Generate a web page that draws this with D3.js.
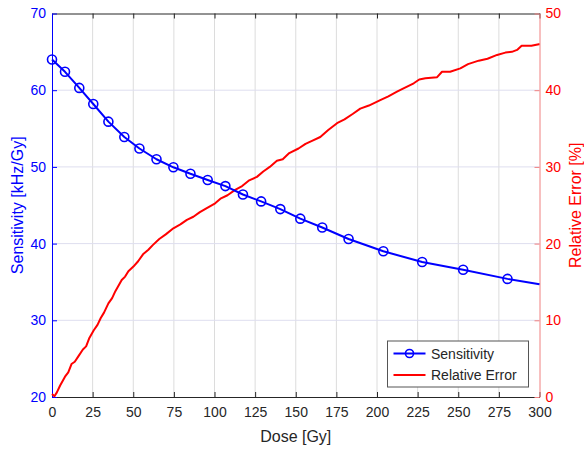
<!DOCTYPE html>
<html>
<head>
<meta charset="utf-8">
<script src="https://cdn.jsdelivr.net/npm/d3@7"></script>
<style>
  body { margin: 0; background: #fff; }
  svg text { font-family: "Liberation Sans", Arial, Helvetica, sans-serif; }
</style>
</head>
<body>
<div class="vis"></div>
<script>
// sensitivity curve (left axis), the last point carries no marker
const sensDose  = [0, 8, 16.8, 25.4, 34.7, 44.5, 53.8, 64.3, 74.7, 85.2, 95.8, 106.7, 117.5, 128.7, 140.5, 152.8, 166.3, 182.5, 203.9, 227.8, 253, 280.3, 300];
const sensValue = [64.0, 62.4, 60.3, 58.2, 55.9, 53.9, 52.4, 51.0, 49.95, 49.1, 48.3, 47.5, 46.4, 45.5, 44.5, 43.25, 42.1, 40.6, 39.0, 37.6, 36.6, 35.4, 34.7];

// relative error curve (right axis)
const errDose  = [0, 1.5, 3, 5, 8, 10, 12, 14, 16.2, 19, 21, 23, 25.7, 28, 30, 32, 34.7, 37, 39, 42.9, 45, 47, 50.1, 53, 56, 59.3, 62, 66, 70, 74.7, 79, 83, 87, 91, 95, 100.4, 104, 108, 112.7, 117, 121, 126.1, 130, 134, 138.4, 142, 146, 151.7, 156, 160, 165.1, 170, 175.4, 180, 185, 189.7, 195, 202, 207, 212.3, 216, 222.6, 226, 229.8, 237, 240, 245, 251.3, 256, 262.6, 268, 273.9, 279, 283, 286.2, 289, 295, 299.6, 300];
const errValue = [0.4, 0.1, 0.6, 1.5, 2.65, 3.2, 4.3, 4.6, 5.3, 6.2, 6.6, 7.7, 8.7, 9.4, 10.3, 11.0, 12.2, 12.9, 13.8, 15.25, 15.7, 16.4, 17.0, 17.7, 18.6, 19.2, 19.8, 20.6, 21.2, 22.0, 22.5, 23.1, 23.5, 24.1, 24.6, 25.25, 25.9, 26.3, 27.0, 27.5, 28.2, 28.7, 29.4, 30.0, 30.8, 31.0, 31.8, 32.4, 33.0, 33.4, 33.9, 34.8, 35.7, 36.2, 36.9, 37.6, 38.0, 38.7, 39.2, 39.8, 40.2, 40.9, 41.4, 41.55, 41.7, 42.4, 42.4, 42.85, 43.4, 43.85, 44.1, 44.6, 44.9, 45.0, 45.25, 45.8, 45.8, 46.0, 46.0];

const xTicks  = [0, 25, 50, 75, 100, 125, 150, 175, 200, 225, 250, 275, 300];
const yLTicks = [20, 30, 40, 50, 60, 70];
const yRTicks = [0, 10, 20, 30, 40, 50];
const legendNames = ["Sensitivity", "Relative Error"];

const W = 584, H = 449;
const pL = 52, pR = 539.5, pT = 13.5, pB = 397;
const blue = "#0000ff", red = "#ff0000", dark = "#262626";

const svg = d3.select(".vis").append("svg").attr("width", W).attr("height", H);

const x  = d3.scaleLinear().domain([0, 300]).range([pL, pR]);
const yL = d3.scaleLinear().domain([20, 70]).range([pB, pT]);
const yR = d3.scaleLinear().domain([0, 50]).range([pB, pT]);

// grid
svg.append("g").selectAll("line").data(xTicks.slice(1, -1)).join("line")
    .attr("x1", d => x(d)).attr("x2", d => x(d)).attr("y1", pT).attr("y2", pB)
    .attr("stroke", "#dcdcdc").attr("stroke-width", 1);
svg.append("g").selectAll("line").data(yLTicks.slice(1, -1)).join("line")
    .attr("x1", pL).attr("x2", pR).attr("y1", d => yL(d)).attr("y2", d => yL(d))
    .attr("stroke", "#dedeef").attr("stroke-width", 1);

// axes
const styleAxis = (g, col, txt) => {
    g.selectAll("path.domain").attr("stroke", col);
    g.selectAll(".tick line").attr("stroke", col);
    g.selectAll(".tick text").attr("fill", txt).style("font-size", "14px")
        .style("font-family", '"Liberation Sans", Arial, sans-serif');
};

svg.append("g").attr("transform", `translate(0, ${pB})`)
    .call(d3.axisBottom(x).tickValues(xTicks).tickSize(-5).tickSizeOuter(0).tickPadding(10))
    .call(g => styleAxis(g, dark, dark));
svg.append("g").attr("transform", `translate(0, ${pT})`)
    .call(d3.axisTop(x).tickValues(xTicks).tickSize(-5).tickSizeOuter(0).tickFormat(""))
    .call(g => styleAxis(g, dark, dark));
svg.append("g").attr("transform", `translate(${pL}, 0)`)
    .call(d3.axisLeft(yL).tickValues(yLTicks).tickSize(-5).tickSizeOuter(0).tickPadding(6))
    .call(g => styleAxis(g, blue, blue));
svg.append("g").attr("transform", `translate(${pR}, 0)`)
    .call(d3.axisRight(yR).tickValues(yRTicks).tickSize(-5).tickSizeOuter(0).tickPadding(6))
    .call(g => styleAxis(g, "#f08080", red));

// axis titles
svg.append("text").attr("x", (pL + pR) / 2).attr("y", 442).attr("text-anchor", "middle")
    .attr("fill", dark).style("font-size", "16px").text("Dose [Gy]");
svg.append("text").attr("transform", `translate(23, ${(pT + pB) / 2}) rotate(-90)`)
    .attr("text-anchor", "middle").attr("fill", blue).style("font-size", "16px")
    .text("Sensitivity [kHz/Gy]");
svg.append("text").attr("transform", `translate(581, ${(pT + pB) / 2}) rotate(-90)`)
    .attr("text-anchor", "middle").attr("fill", red).style("font-size", "16px")
    .text("Relative Error [%]");

// curves
const sensPts = sensDose.map((d, i) => [d, sensValue[i]]);
const errPts = errDose.map((d, i) => [d, errValue[i]]);

svg.append("path").datum(errPts)
    .attr("d", d3.line().x(d => x(d[0])).y(d => yR(d[1])))
    .attr("fill", "none").attr("stroke", red).attr("stroke-width", 2).attr("stroke-linejoin", "round");

svg.append("path").datum(sensPts)
    .attr("d", d3.line().x(d => x(d[0])).y(d => yL(d[1])))
    .attr("fill", "none").attr("stroke", blue).attr("stroke-width", 2).attr("stroke-linejoin", "round");

svg.append("g").selectAll("circle").data(sensPts.slice(0, -1)).join("circle")
    .attr("cx", d => x(d[0])).attr("cy", d => yL(d[1])).attr("r", 4.5)
    .attr("fill", "none").attr("stroke", blue).attr("stroke-width", 1.6);

// legend
const lg = svg.append("g").attr("transform", "translate(387.5, 341)");
lg.append("rect").attr("width", 141).attr("height", 46)
    .attr("fill", "#fff").attr("stroke", "#555").attr("stroke-width", 1);
const rows = [12.5, 34];
lg.selectAll("line.s").data(legendNames).join("line")
    .attr("x1", 6).attr("x2", 38).attr("y1", (d, i) => rows[i]).attr("y2", (d, i) => rows[i])
    .attr("stroke", (d, i) => i === 0 ? blue : red).attr("stroke-width", 2);
lg.append("circle").attr("cx", 22).attr("cy", rows[0]).attr("r", 4)
    .attr("fill", "none").attr("stroke", blue).attr("stroke-width", 1.6);
lg.selectAll("text").data(legendNames).join("text")
    .attr("x", 43.5).attr("y", (d, i) => rows[i] + 5)
    .attr("fill", dark).style("font-size", "14px").text(d => d);
</script>
</body>
</html>
